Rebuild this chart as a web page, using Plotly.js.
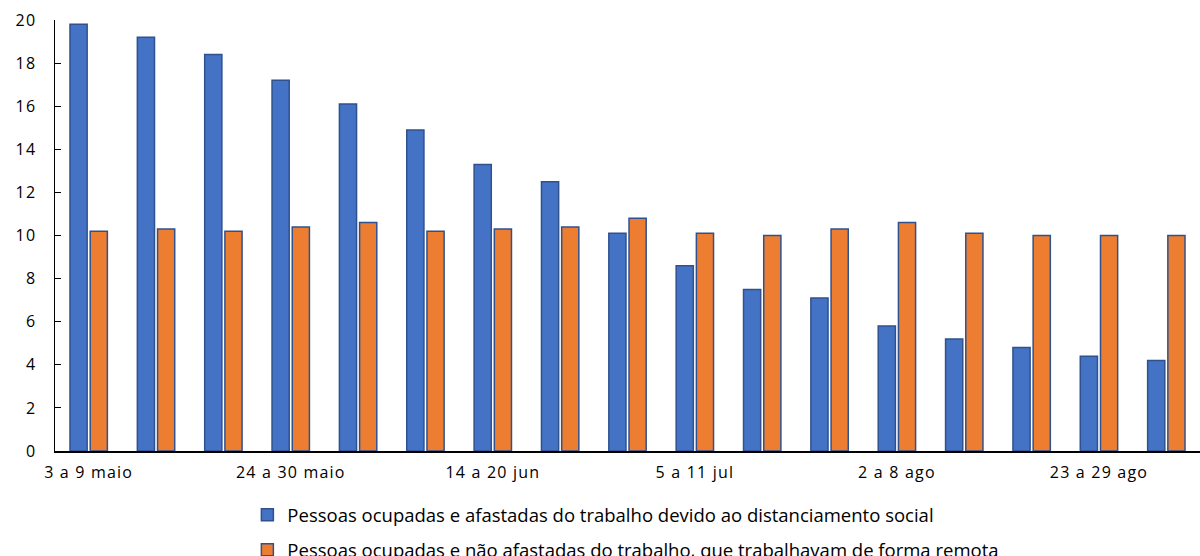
<!DOCTYPE html>
<html>
<head>
<meta charset="utf-8">
<script src="https://cdn.plot.ly/plotly-3.0.1.min.js"></script>
<style>
  html, body { margin: 0; padding: 0; background: #fff; }
  #chart { width: 1200px; height: 556px; }
  /* rótulos dos eixos espaçados como no original */
  #chart .xtick text, #chart .ytick text { letter-spacing: 1.2px; }
</style>
</head>
<body>
<div id="chart"></div>
<script>
const semanas = [
    "3 a 9 maio", "10 a 16 maio", "17 a 23 maio", "24 a 30 maio",
    "31 maio a 6 jun", "7 a 13 jun", "14 a 20 jun", "21 a 27 jun",
    "28 jun a 4 jul", "5 a 11 jul", "12 a 18 jul", "19 a 25 jul",
    "2 a 8 ago", "9 a 15 ago", "16 a 22 ago", "23 a 29 ago", "30 ago a 5 set"
];
const afastadas = [19.8, 19.2, 18.4, 17.2, 16.1, 14.9, 13.3, 12.5, 10.1, 8.6, 7.5, 7.1, 5.8, 5.2, 4.8, 4.4, 4.2];
const remotas = [10.2, 10.3, 10.2, 10.4, 10.6, 10.2, 10.3, 10.4, 10.8, 10.1, 10.0, 10.3, 10.6, 10.1, 10.0, 10.0, 10.0];
const tickSemanas = ["3 a 9 maio", "24 a 30 maio", "14 a 20 jun", "5 a 11 jul", "2 a 8 ago", "23 a 29 ago"];

const nomeAfastadas = "Pessoas ocupadas e afastadas do trabalho devido ao distanciamento social";
const nomeRemotas = "Pessoas ocupadas e não afastadas do trabalho, que trabalhavam de forma remota";

const fonte = "'Open Sans', sans-serif";

let data = [
    {
        type: "bar",
        name: nomeAfastadas,
        x: semanas,
        y: afastadas,
        marker: { color: "#4472C4", line: { color: "#2F528F", width: 1.5 } },
        legendgroup: "a",
        hoverinfo: "y"
    },
    {
        type: "bar",
        name: nomeRemotas,
        x: semanas,
        y: remotas,
        marker: { color: "#ED7D31", line: { color: "#2F528F", width: 1.5 } },
        legendgroup: "b",
        hoverinfo: "y"
    }
];

let layout = {
    width: 1200,
    height: 556,
    margin: { l: 55, r: 0, t: 20, b: 105, autoexpand: false },
    paper_bgcolor: "#fff",
    plot_bgcolor: "#fff",
    font: { family: fonte, size: 16, color: "#000" },
    barmode: "group",
    bargap: 0.4,
    bargroupgap: 0.15,
    xaxis: {
        type: "category",
        tickvals: tickSemanas,
        ticktext: tickSemanas,
        tickangle: 0,
        showline: true,
        linecolor: "#000",
        linewidth: 1.5,
        ticks: "",
        showgrid: false,
        zeroline: false,
        tickfont: { family: fonte, size: 16 },
        ticklabelstandoff: 6
    },
    yaxis: {
        range: [0, 20],
        dtick: 2,
        showline: true,
        linecolor: "#000",
        linewidth: 1.5,
        ticks: "inside",
        ticklen: 6,
        tickcolor: "#000",
        showgrid: false,
        zeroline: false,
        tickfont: { family: fonte, size: 16 },
        ticklabelstandoff: 14
    },
    legend: {
        orientation: "v",
        traceorder: "grouped",
        tracegroupgap: 8,
        xref: "paper",
        yref: "paper",
        xanchor: "left",
        yanchor: "top",
        x: 0.168,
        y: -0.105,
        bgcolor: "rgba(0,0,0,0)",
        font: { family: fonte, size: 18.5, color: "#000" },
        itemwidth: 30
    }
};

Plotly.newPlot("chart", data, layout, { displayModeBar: false, staticPlot: true });
</script>
</body>
</html>
